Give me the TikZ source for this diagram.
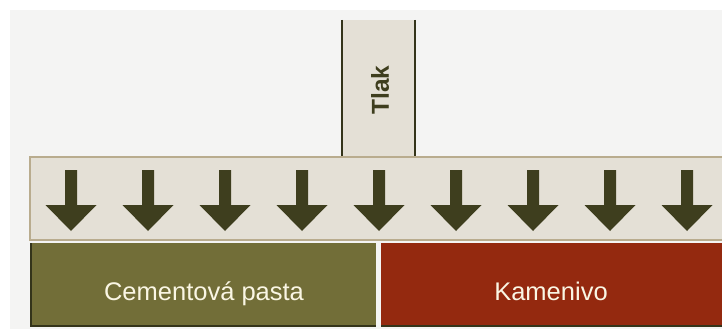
\documentclass[tikz,border=0pt]{standalone}
\usepackage{fontspec}
\setmainfont{Liberation Sans}
\definecolor{bgc}{HTML}{F4F4F3}
\definecolor{platec}{HTML}{E4E0D6}
\definecolor{plateline}{HTML}{B9AC8E}
\definecolor{arrowc}{HTML}{3E3E1E}
\definecolor{cementc}{HTML}{726E38}
\definecolor{kamc}{HTML}{94290F}
\definecolor{edgec}{HTML}{34341A}
\definecolor{textc}{HTML}{FAF6E4}
\tikzset{
  block/.style={inner sep=0pt, outer sep=0pt, anchor=north west},
  label/.style={text=textc, font=\fontsize{25.5}{27}\selectfont},
  downarrow/.style={fill=arrowc}
}
\begin{document}
\begin{tikzpicture}[x=1pt,y=-1pt]
\useasboundingbox (0,0) rectangle (722,329);
\fill[white] (0,0) rectangle (722,329);
\fill[bgc] (10,10) rectangle (722,329);
% pressure column
\node[block, fill=platec, minimum width=73pt, minimum height=137pt] (tlak) at (342,20) {};
\draw[edgec, line width=2pt] (tlak.north west) -- (tlak.south west);
\draw[edgec, line width=2pt] (tlak.north east) -- (tlak.south east);
\node[rotate=90, font=\bfseries\fontsize{24.5}{26}\selectfont, text=arrowc] (tlaktext) at (380,90) {Tlak};
% plate
\node[block, fill=platec, draw=plateline, line width=1.5pt, minimum width=694pt, minimum height=83pt] (plate) at (30,157) {};
% arrows
\foreach \x in {71,148,225,302,379,456,533,610,687}{
  \fill[downarrow] (\x-6,170) -- (\x+6,170) -- (\x+6,205) -- (\x+25.5,205) -- (\x,231) -- (\x-25.5,205) -- (\x-6,205) -- cycle;
}
% bottom blocks
\node[block, fill=cementc, minimum width=345pt, minimum height=83pt] (cement) at (31,243) {};
\draw[edgec, line width=1.5pt] (cement.north west) -- (cement.south west) -- (cement.south east);
\node[block, fill=kamc, minimum width=345pt, minimum height=83pt] (kamen) at (381,243) {};
\draw[edgec, line width=1.5pt] (kamen.south west) -- (kamen.south east);
\node[label, anchor=base] (cementtext) at (204,300) {Cementová pasta};
\node[label, anchor=base] (kamentext) at (551,300) {Kamenivo};
\end{tikzpicture}
\end{document}
